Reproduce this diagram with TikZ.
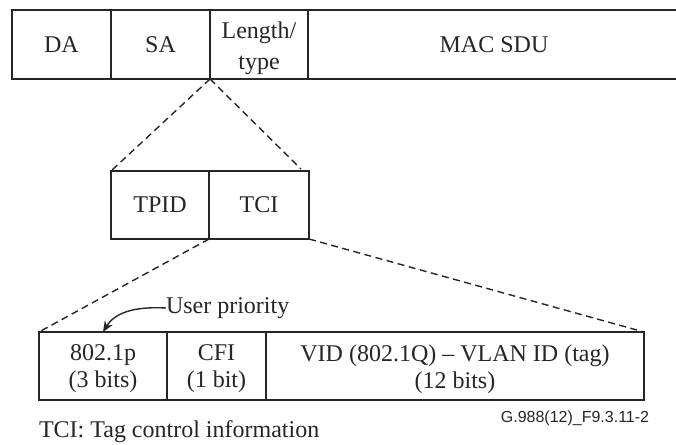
\documentclass[tikz,border=0pt]{standalone}
\usepackage{fontspec}
\setmainfont{Liberation Serif}
\newfontfamily\labelsans{Liberation Sans}
\usetikzlibrary{arrows.meta}
\definecolor{ink}{HTML}{262626}
\tikzset{
  cell/.style={draw=ink, line width=1.5pt, inner sep=0pt, outer sep=0pt, align=center,
    text=ink, font=\fontsize{24}{27}\selectfont},
  plain/.style={inner sep=0pt, outer sep=0pt, text=ink, font=\fontsize{24}{27}\selectfont},
  inside/.style={plain, align=center, yshift=-3pt},
  zoomline/.style={draw=ink, line width=1.4pt, dash pattern=on 7pt off 4.5pt},
  pointer/.style={draw=ink, line width=1.4pt, -{Stealth[length=11pt,width=9pt]}},
}
\begin{document}
\begin{tikzpicture}[x=1pt,y=-1pt]
\useasboundingbox[fill=white] (0,0) rectangle (676,444);
% top frame
\node[cell, minimum width=99pt, minimum height=69pt] (da) at (61.5,44.5) {DA};
\node[cell, minimum width=99pt, minimum height=69pt] (sa) at (160.5,44.5) {SA};
\node[cell, minimum width=98pt, minimum height=69pt,
  label={[inside, yshift=-1pt]center:Length/\\[4pt]type}] (lt) at (259,44.5) {};
\node[cell, minimum width=372pt, minimum height=69pt] (sdu) at (494,44.5) {MAC SDU};
% tag
\node[cell, minimum width=98pt, minimum height=68pt] (tpid) at (160,205) {TPID};
\node[cell, minimum width=100pt, minimum height=68pt] (tci) at (259,205) {TCI};
% TCI fields
\node[cell, minimum width=128pt, minimum height=68pt,
  label={[inside]center:802.1p\\(3 bits)}] (pri) at (103,366) {};
\node[cell, minimum width=99pt, minimum height=68pt,
  label={[inside]center:CFI\\(1 bit)}] (cfi) at (216.5,366) {};
\node[cell, minimum width=378pt, minimum height=68pt,
  label={[inside]center:VID (802.1Q) -- VLAN ID (tag)\\(12 bits)}] (vid) at (455,366) {};
% zoom lines
\coordinate (tipr) at (301,169);
\draw[zoomline] (sa.south east) -- (tpid.north west);
\draw[zoomline] (sa.south east) -- (tipr);
\draw[zoomline] (tci.south west) -- (pri.north west);
\draw[zoomline] (tci.south east) -- (vid.north east);
% user priority
\node[plain, anchor=west] (up) at (166,308) {User priority};
\draw[pointer] (up.west) .. controls (132,306) and (114,314) .. (pri.north);
% notes
\node[plain, anchor=west] (note) at (39,432) {TCI: Tag control information};
\node[inner sep=0pt, text=ink, font=\labelsans\fontsize{16}{18}\selectfont] (fig) at (575,418) {G.988(12)\_F9.3.11-2};
\end{tikzpicture}
\end{document}
